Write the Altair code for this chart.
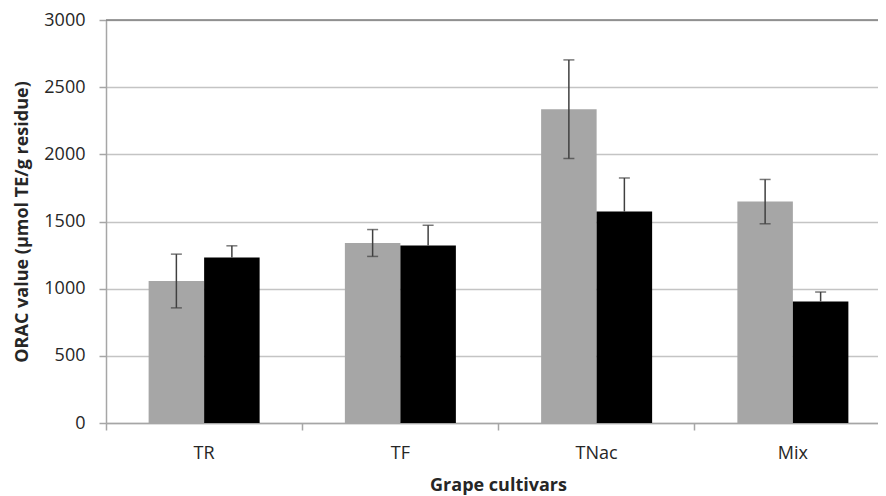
import altair as alt
import pandas as pd

categories = ["TR", "TF", "TNac", "Mix"]
series = ["Series 1", "Series 2"]
series_colors = ["#a6a6a6", "#000000"]
gray_values = [1057, 1340, 2336, 1648]
gray_errors = [200, 100, 367, 165]
black_values = [1232, 1322, 1574, 905]
black_errors = [87, 150, 250, 70]
y_ticks = [0, 500, 1000, 1500, 2000, 2500, 3000]

rows = []
for c, v, e in zip(categories, gray_values, gray_errors):
    rows.append(dict(cultivar=c, series=series[0], value=v, lo=v - e, hi=v + e))
for c, v, e in zip(categories, black_values, black_errors):
    rows.append(dict(cultivar=c, series=series[1], value=v, lo=v, hi=v + e))
df = pd.DataFrame(rows)

FONT = "Open Sans"
TEXT = "#262626"
FS = 18

x_enc = alt.X(
    "cultivar:N",
    sort=categories,
    title="Grape cultivars",
    scale=alt.Scale(range=[0, 785], paddingInner=0, paddingOuter=0),
    axis=alt.Axis(
        labelAngle=0,
        bandPosition=0,
        domainColor="#a6a6a6",
        domainWidth=1.5,
        tickColor="#a6a6a6",
        tickWidth=1.5,
        tickSize=7,
        labelFontSize=FS,
        labelFont=FONT,
        labelColor=TEXT,
        labelPadding=14,
        titleFont=FONT,
        titleFontSize=FS,
        titleFontWeight="bold",
        titleColor=TEXT,
        titlePadding=14,
        titleX=392,
        titleAnchor="middle",
    ),
)
xo_enc = alt.XOffset(
    "series:N", sort=series, scale=alt.Scale(paddingInner=0, paddingOuter=0.768)
)
y_scale = alt.Scale(domain=[0, 3000], nice=False)

bars = alt.Chart(df).mark_bar().encode(
    x=x_enc,
    xOffset=xo_enc,
    y=alt.Y(
        "value:Q",
        scale=y_scale,
        title="ORAC value (µmol TE/g residue)",
        axis=alt.Axis(
            values=y_ticks,
            format="d",
            grid=True,
            gridColor="#c4c4c4",
            gridWidth=1.5,
            domainColor="#a6a6a6",
            domainWidth=1.5,
            tickColor="#a6a6a6",
            tickWidth=1.5,
            tickSize=7,
            labelFontSize=FS,
            labelFont=FONT,
            labelColor=TEXT,
            labelPadding=14,
            titleFont=FONT,
            titleFontSize=FS,
            titleFontWeight="bold",
            titleColor=TEXT,
            titlePadding=12,
        ),
    ),
    color=alt.Color(
        "series:N", sort=series, scale=alt.Scale(domain=series, range=series_colors), legend=None
    ),
)

top_line = alt.Chart(pd.DataFrame({"v": [max(y_ticks)]})).mark_rule(
    color="#7f7f7f", strokeWidth=1.5
).encode(y=alt.Y("v:Q", scale=y_scale))

err = alt.Chart(df).mark_rule(color="#404040", strokeWidth=1.5).encode(
    x=alt.X("cultivar:N", sort=categories),
    xOffset=alt.XOffset("series:N", sort=series),
    y=alt.Y("lo:Q", scale=y_scale),
    y2="hi:Q",
)
cap_hi = alt.Chart(df).mark_tick(color="#404040", thickness=1.5, size=11).encode(
    x=alt.X("cultivar:N", sort=categories),
    xOffset=alt.XOffset("series:N", sort=series),
    y=alt.Y("hi:Q", scale=y_scale),
)
cap_lo = (
    alt.Chart(df)
    .transform_filter(alt.datum.series == series[0])
    .mark_tick(color="#404040", thickness=1.5, size=11)
    .encode(
        x=alt.X("cultivar:N", sort=categories),
        xOffset=alt.XOffset("series:N", sort=series),
        y=alt.Y("lo:Q", scale=y_scale),
    )
)

chart = (
    alt.layer(bars, top_line, err, cap_hi, cap_lo)
    .properties(
        width=772,
        height=403,
        padding={"left": 98, "top": 12, "right": 0, "bottom": 74},
        autosize=alt.AutoSizeParams(type="none"),
        background="white",
    )
    .configure_view(stroke=None)
)

chart.save("out.html", embed_options={"renderer": "svg", "actions": False})
